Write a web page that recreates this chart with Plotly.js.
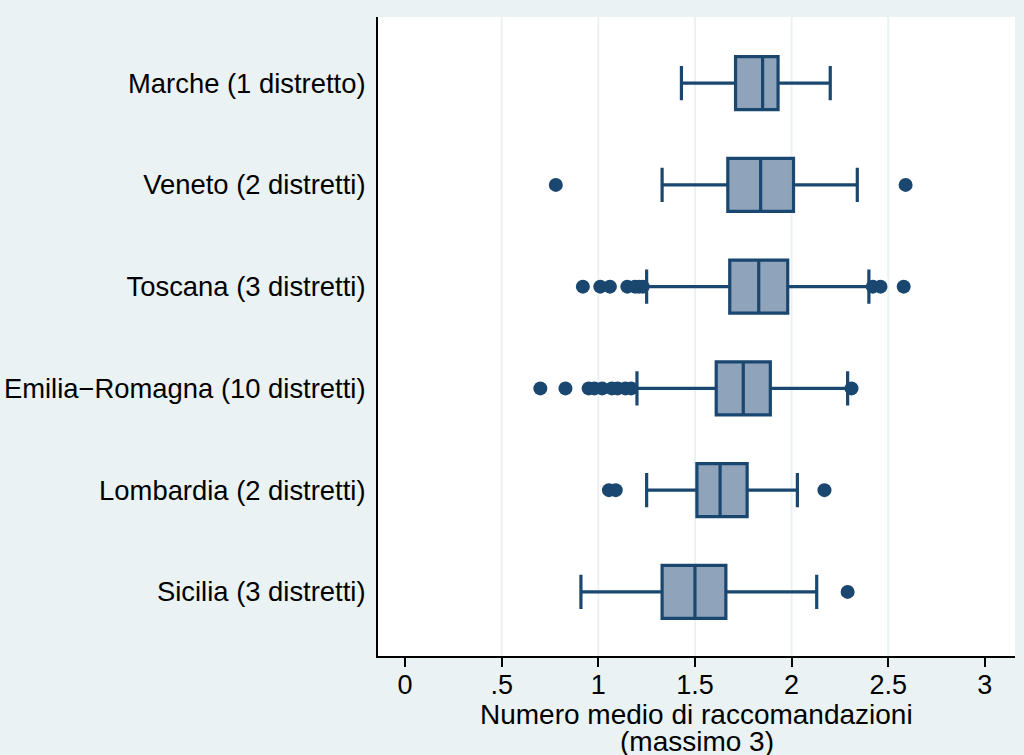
<!DOCTYPE html>
<html>
<head>
<meta charset="utf-8">
<script src="https://cdn.plot.ly/plotly-3.0.1.min.js"></script>
<style>
  html, body { margin: 0; padding: 0; background: #EAF2F3; }
  #chart { width: 1024px; height: 755px; }
</style>
</head>
<body>
<div id="chart"></div>
<script>
// Categories, bottom to top
const regions = [
  "Sicilia (3 distretti)",
  "Lombardia (2 distretti)",
  "Emilia\u2212Romagna (10 distretti)",
  "Toscana (3 distretti)",
  "Veneto (2 distretti)",
  "Marche (1 distretto)"
];
const lowerWhisker = [0.91, 1.25, 1.20, 1.25, 1.33, 1.43];
const q1Values     = [1.33, 1.51, 1.61, 1.68, 1.67, 1.71];
const medianValues = [1.50, 1.63, 1.75, 1.83, 1.84, 1.85];
const q3Values     = [1.66, 1.77, 1.89, 1.98, 2.01, 1.93];
const upperWhisker = [2.13, 2.03, 2.29, 2.40, 2.34, 2.20];

// Outside values per region
const outliersSicilia   = [2.29];
const outliersLombardia = [1.055, 1.09, 2.17];
const outliersEmilia    = [0.70, 0.83, 0.95, 0.98, 1.02, 1.07, 1.10, 1.14, 1.17, 2.31];
const outliersToscana   = [0.92, 1.01, 1.06, 1.15, 1.19, 1.21, 1.23, 2.42, 2.46, 2.58];
const outliersVeneto    = [0.78, 2.59];
const outliersMarche    = [];

const outlierGroups = [outliersSicilia, outliersLombardia, outliersEmilia,
                       outliersToscana, outliersVeneto, outliersMarche];

const xTickVals = [0, 0.5, 1, 1.5, 2, 2.5, 3];
const xTickText = ["0", ".5", "1", "1.5", "2", "2.5", "3"];
const gridVals  = [0.5, 1, 1.5, 2, 2.5];
const xTitleLines = ["Numero medio di raccomandazioni", "(massimo 3)"];

const navy = "#1A476F";
const boxFill = "#8FA3BB";

const outX = [], outY = [];
outlierGroups.forEach((g, i) => g.forEach(v => { outX.push(v); outY.push(regions[i]); }));

const traces = [
  {
    type: "box",
    orientation: "h",
    y: regions,
    q1: q1Values,
    median: medianValues,
    q3: q3Values,
    lowerfence: lowerWhisker,
    upperfence: upperWhisker,
    boxpoints: false,
    width: 0.52,
    whiskerwidth: 0.65,
    fillcolor: boxFill,
    line: { color: navy, width: 3.2 },
    hoverinfo: "skip",
    showlegend: false
  },
  {
    type: "scatter",
    mode: "markers",
    x: outX,
    y: outY,
    marker: { color: navy, size: 14, line: { width: 0 } },
    hoverinfo: "skip",
    showlegend: false
  }
];

const shapes = gridVals.map(v => ({
  type: "line", xref: "x", yref: "paper",
  x0: v, x1: v, y0: 0, y1: 1,
  line: { color: "#EAF2F3", width: 2 },
  layer: "below"
}));

const layout = {
  width: 1024,
  height: 755,
  margin: { l: 378, r: 9, t: 17, b: 99, pad: 0 },
  paper_bgcolor: "#EAF2F3",
  plot_bgcolor: "#FFFFFF",
  font: { family: "Liberation Sans, Arial, sans-serif", color: "#000000" },
  showlegend: false,
  xaxis: {
    range: [-0.14, 3.156],
    tickvals: xTickVals,
    ticktext: xTickText,
    showgrid: false,
    zeroline: false,
    showline: true,
    linecolor: "#000000",
    linewidth: 2,
    ticks: "outside",
    ticklen: 9,
    tickwidth: 2,
    tickcolor: "#000000",
    ticklabelstandoff: -5,
    tickfont: { size: 27, color: "#000000" },
    fixedrange: true
  },
  yaxis: {
    type: "category",
    categoryorder: "array",
    categoryarray: regions,
    range: [-0.63, 5.65],
    showgrid: false,
    zeroline: false,
    showline: true,
    linecolor: "#000000",
    linewidth: 2,
    ticks: "",
    ticklabelstandoff: 5,
    tickfont: { size: 27.4, color: "#000000" },
    fixedrange: true
  },
  shapes: shapes,
  annotations: [
    {
      text: xTitleLines[0],
      xref: "paper", yref: "paper", x: 0.5, y: -0.0905,
      xanchor: "center", yanchor: "middle", showarrow: false,
      height: 28, borderpad: 0,
      font: { size: 28, color: "#000000" }
    },
    {
      text: xTitleLines[1],
      xref: "paper", yref: "paper", x: 0.5, y: -0.1325,
      xanchor: "center", yanchor: "middle", showarrow: false,
      height: 28, borderpad: 0,
      font: { size: 28, color: "#000000" }
    }
  ]
};

Plotly.newPlot("chart", traces, layout, { displayModeBar: false, staticPlot: true });
</script>
</body>
</html>
